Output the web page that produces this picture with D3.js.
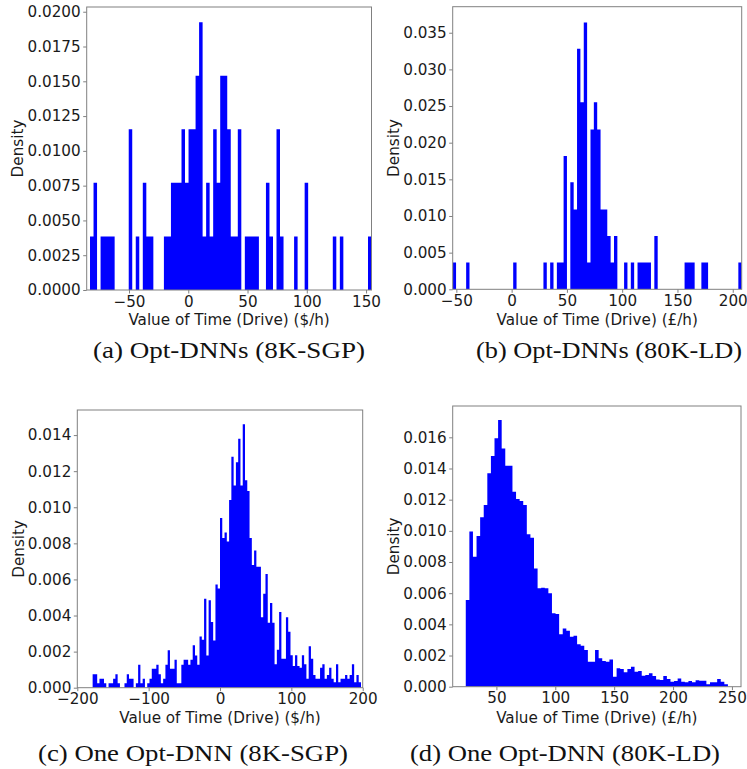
<!DOCTYPE html>
<html>
<head>
<meta charset="utf-8">
<title>Value of Time histograms</title>
<script src="https://d3js.org/d3.v7.min.js"></script>
<style>
  body { margin: 0; background: #fff; }
  .tick text, .lbl { font-family: "DejaVu Sans", sans-serif; font-size: 15.2px; fill: #1a1a1a; }
  .cap { font-family: "Liberation Serif", "DejaVu Serif", serif; font-size: 24px; fill: #111; }
</style>
</head>
<body>
<div id="chart"></div>
<script>
// densities per bin (left to right)
const aRange = [-82.9, 154.6];
const aDensity = [
  0.00385, 0.0077, 0, 0.00385, 0.00385, 0.00385, 0.00385, 0, 0, 0,
  0, 0.01155, 0, 0.00385, 0, 0.0077, 0.00385, 0.00385, 0, 0,
  0, 0.00385, 0.00385, 0.0077, 0.0077, 0.0077, 0.01155, 0.0077, 0.01155, 0.01155,
  0.0154, 0.01925, 0.00385, 0.0077, 0.00385, 0.01155, 0.0077, 0.0154, 0.0154, 0.01155,
  0.00385, 0.00385, 0.01155, 0, 0.00385, 0.00385, 0.00385, 0.00385, 0, 0,
  0.0077, 0.00385, 0, 0.01155, 0.00385, 0, 0, 0, 0.00385, 0,
  0, 0.0077, 0, 0, 0, 0, 0, 0, 0, 0.00385,
  0, 0.00385, 0, 0, 0, 0, 0, 0, 0, 0.00385
];

const bRange = [-53.3, 208.1];
const bDensity = [
  0.00364, 0, 0, 0, 0.00364, 0, 0, 0, 0, 0,
  0, 0, 0, 0, 0, 0, 0, 0, 0.00364, 0,
  0, 0, 0, 0, 0, 0, 0, 0.00364, 0, 0.00364,
  0, 0.00364, 0.00364, 0.0182, 0, 0.0146, 0.0109, 0.0328, 0.0255, 0.0364,
  0.00364, 0.0218, 0.0255, 0.0218, 0.0109, 0.0109, 0.00728, 0.00364, 0.00728, 0,
  0, 0.00364, 0, 0.00364, 0, 0.00364, 0.00364, 0.00364, 0.00364, 0,
  0.00728, 0, 0, 0, 0, 0, 0, 0, 0, 0.00364,
  0.00364, 0.00364, 0, 0, 0.00364, 0.00364, 0, 0, 0, 0,
  0, 0, 0, 0, 0, 0.00364
];

const cRange = [-178.5, 197.6];
const cDensity = [
  0.00074, 0.00074, 0.00025, 0.00049, 0.00049, 0.00025, 0, 0.00025, 0.00025, 0.00049,
  0.00074, 0.00025, 0, 0, 0.00025, 0.00074, 0.00049, 0.00049, 0, 0.00025,
  0.00127, 0.00025, 0.00049, 0, 0.00025, 0.00049, 0.00105, 0.00105, 0.00127, 0.00074,
  0.00025, 0.00049, 0.00127, 0.00207, 0.00105, 0.00105, 0.00155, 0.00025, 0.00025, 0.00127,
  0.00155, 0.00155, 0.00127, 0.00155, 0.00235, 0.00179, 0.00127, 0.00284, 0.00266, 0.00493,
  0.00179, 0.00484, 0.00364, 0.00262, 0.00572, 0.0055, 0.0094, 0.0083, 0.0086, 0.0081,
  0.0104, 0.0128, 0.0112, 0.0125, 0.0138, 0.0112, 0.0146, 0.0115, 0.0109, 0.0083,
  0.0068, 0.0076, 0.0067, 0.0067, 0.0039, 0.0052, 0.0063, 0.0036, 0.0047, 0.0036,
  0.0013, 0.0021, 0.0042, 0.0016, 0.0016, 0.0039, 0.0031, 0.0018, 0.0012, 0.0018,
  0.0012, 0.0011, 0.0018, 0.0013, 0.0005, 0.0023, 0.0016, 0.0007, 0.0005, 0.0005,
  0.0011, 0.0013, 0.0005, 0.0007, 0.0011, 0.0005, 0.0003, 0.0013, 0.0003, 0.0005,
  0.0005, 0.0007, 0.0005, 0.0007, 0.0013, 0.0003, 0.0007, 0.0003
];

const dRange = [24, 246.6];
const dDensity = [
  0.00556, 0.00995, 0.00834, 0.00967, 0.01087, 0.01166, 0.01369, 0.0148, 0.01594, 0.01711,
  0.01529, 0.01418, 0.01418, 0.01251, 0.01204, 0.01191, 0.01166, 0.00978, 0.00956, 0.00759,
  0.00631, 0.00635, 0.00631, 0.00599, 0.00471, 0.00466, 0.00336, 0.00374, 0.00359, 0.00321,
  0.00327, 0.00272, 0.00263, 0.00235, 0.0016, 0.0016, 0.00235, 0.00182, 0.00165, 0.0016,
  0.00175, 0.00064, 0.00118, 0.00113, 0.00092, 0.00113, 0.00128, 0.00096, 0.001, 0.00071,
  0.00075, 0.00086, 0.00068, 0.00047, 0.00043, 0.00068, 0.00049, 0.00032, 0.00036, 0.00053,
  0.00032, 0.00028, 0.00036, 0.00028, 0.00041, 0.00038, 0.00038, 0.00015, 0.00028, 0.00028,
  0.00049, 0.00032, 0.00015
];

// tick values
const xTicksA = [-50, 0, 50, 100, 150];
const yTicksA = [0, 0.0025, 0.005, 0.0075, 0.01, 0.0125, 0.015, 0.0175, 0.02];
const xTicksB = [-50, 0, 50, 100, 150, 200];
const yTicksB = [0, 0.005, 0.01, 0.015, 0.02, 0.025, 0.03, 0.035];
const xTicksC = [-200, -100, 0, 100, 200];
const yTicksC = [0, 0.002, 0.004, 0.006, 0.008, 0.01, 0.012, 0.014];
const xTicksD = [50, 100, 150, 200, 250];
const yTicksD = [0, 0.002, 0.004, 0.006, 0.008, 0.01, 0.012, 0.014, 0.016];

const panels = [
  { box: [86.7, 7, 371.5, 290], xDomain: [-85.7, 154.6], yMax: 0.02034,
    range: aRange, dens: aDensity, xTicks: xTicksA, yTicks: yTicksA, yFmt: ".4f",
    xLabel: "Value of Time (Drive) ($/h)", labX: 17.5, labY: 320,
    caption: "(a) Opt-DNNs (8K-SGP)", capX: 229, capY: 350, capW: 272 },
  { box: [452.7, 6.7, 741.7, 289.3], xDomain: [-53.3, 208.1], yMax: 0.03855,
    range: bRange, dens: bDensity, xTicks: xTicksB, yTicks: yTicksB, yFmt: ".3f",
    xLabel: "Value of Time (Drive) (£/h)", labX: 393.5, labY: 320,
    caption: "(b) Opt-DNNs (80K-LD)", capX: 609, capY: 350, capW: 266 },
  { box: [77.3, 410, 362.7, 687.7], xDomain: [-200, 200], yMax: 0.01539,
    range: cRange, dens: cDensity, xTicks: xTicksC, yTicks: yTicksC, yFmt: ".3f",
    xLabel: "Value of Time (Drive) ($/h)", labX: 18.5, labY: 718.3,
    caption: "(c) One Opt-DNN (8K-SGP)", capX: 193, capY: 753, capW: 310 },
  { box: [452.7, 406, 741, 686.7], xDomain: [12.9, 257.7], yMax: 0.01801,
    range: dRange, dens: dDensity, xTicks: xTicksD, yTicks: yTicksD, yFmt: ".3f",
    xLabel: "Value of Time (Drive) (£/h)", labX: 393.5, labY: 718.3,
    caption: "(d) One Opt-DNN (80K-LD)", capX: 565, capY: 753, capW: 310 }
];

const svg = d3.select("#chart").append("svg")
  .attr("width", 747)
  .attr("height", 769);

const minus = s => s.replace("-", "\u2212");

panels.forEach((p, pi) => {
  const [l, t, r, b] = p.box;
  const x = d3.scaleLinear().domain(p.xDomain).range([l, r]);
  const y = d3.scaleLinear().domain([0, p.yMax]).range([b, t]);
  const w = (p.range[1] - p.range[0]) / p.dens.length;

  // bin left edges plus the closing edge
  const bins = p.dens.map((v, i) => ({ x0: p.range[0] + i * w, v }));
  bins.push({ x0: p.range[1], v: 0 });

  const g = svg.append("g");

  g.append("clipPath").attr("id", "clip" + pi)
    .append("rect").attr("x", l).attr("y", t).attr("width", r - l).attr("height", b - t);

  // histogram drawn as one stepped area so neighbouring bars do not show seams
  const area = d3.area()
    .x(d => x(d.x0))
    .y0(y(0))
    .y1(d => y(d.v))
    .curve(d3.curveStepAfter);

  g.append("path")
    .datum(bins)
    .attr("clip-path", `url(#clip${pi})`)
    .attr("d", area)
    .attr("fill", "#0000ff");

  const xAxis = g.append("g")
    .attr("transform", `translate(0,${b})`)
    .call(d3.axisBottom(x).tickValues(p.xTicks).tickSize(3.5).tickPadding(2.5)
      .tickFormat(d => minus(d3.format("d")(d))));
  const yAxis = g.append("g")
    .attr("transform", `translate(${l},0)`)
    .call(d3.axisLeft(y).tickValues(p.yTicks).tickSize(3.5).tickPadding(2.5)
      .tickFormat(d3.format(p.yFmt)));
  [xAxis, yAxis].forEach(a => {
    a.attr("font-family", null).attr("font-size", null);
    a.select(".domain").remove();
    a.selectAll(".tick line").attr("stroke", "#808080");
  });

  // frame
  g.append("rect")
    .attr("x", l).attr("y", t)
    .attr("width", r - l).attr("height", b - t)
    .attr("fill", "none")
    .attr("stroke", "#808080")
    .attr("stroke-width", 1);

  g.append("text").attr("class", "lbl")
    .attr("x", (l + r) / 2).attr("y", p.labY)
    .attr("text-anchor", "middle").attr("dominant-baseline", "central")
    .text(p.xLabel);

  g.append("text").attr("class", "lbl")
    .attr("transform", `translate(${p.labX},${(t + b) / 2}) rotate(-90)`)
    .attr("text-anchor", "middle").attr("dominant-baseline", "central")
    .text("Density");

  g.append("text").attr("class", "cap")
    .attr("x", p.capX).attr("y", p.capY)
    .attr("text-anchor", "middle").attr("dominant-baseline", "central")
    .attr("textLength", p.capW)
    .attr("lengthAdjust", "spacingAndGlyphs")
    .text(p.caption);
});
</script>
</body>
</html>
